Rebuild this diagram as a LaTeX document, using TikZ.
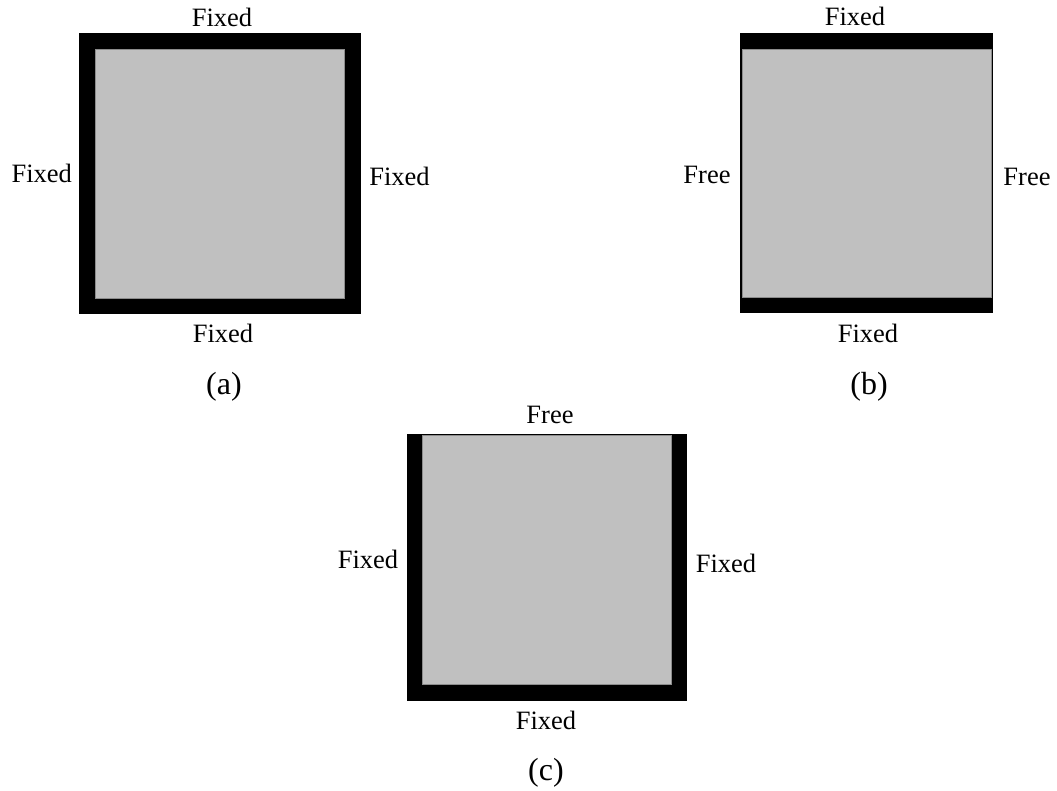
\documentclass[tikz,border=0pt]{standalone}
\usepackage{fontspec}
\setmainfont{Liberation Serif}
\definecolor{plategray}{RGB}{192,192,192}
\definecolor{plateedge}{RGB}{140,140,140}
\begin{document}
\begin{tikzpicture}[x=1pt,y=-1pt,
  clamp/.style={fill=black},
  plate/.style={fill=plategray, draw=plateedge, line width=0.7pt},
  lbl/.style={anchor=base, inner sep=0pt, font=\fontsize{26.5}{30}\selectfont},
  subcap/.style={anchor=base, inner sep=0pt, font=\fontsize{32}{36}\selectfont}]
\useasboundingbox (0,0) rectangle (1057,791);

% (a) all four edges clamped
\fill[clamp] (79.3,33.3) rectangle (360.7,314);
\filldraw[plate] (95.3,49.3) rectangle (344.7,298.3);
\node[lbl] (aT) at (222,26.5) {Fixed};
\node[lbl] (aL) at (41.7,182.7) {Fixed};
\node[lbl] (aR) at (399.5,186) {Fixed};
\node[lbl] (aB) at (223,342.5) {Fixed};
\node[subcap] (aC) at (224,394) {(a)};

% (b) top and bottom clamped, sides free
\fill[clamp] (740.3,33.3) rectangle (993.3,313.3);
\filldraw[plate] (742.3,49.3) rectangle (991.7,297.3);
\node[lbl] (bT) at (855,25.5) {Fixed};
\node[lbl] (bL) at (707,184) {Free};
\node[lbl] (bR) at (1027,186) {Free};
\node[lbl] (bB) at (868,342) {Fixed};
\node[subcap] (bC) at (869,394) {(b)};

% (c) top free, other edges clamped
\fill[clamp] (406.5,434) rectangle (686.7,700.5);
\filldraw[plate] (422.3,435.7) rectangle (671,684);
\node[lbl] (cT) at (550,423) {Free};
\node[lbl] (cL) at (368,568) {Fixed};
\node[lbl] (cR) at (726,572) {Fixed};
\node[lbl] (cB) at (546,729) {Fixed};
\node[subcap] (cC) at (546,780) {(c)};
\end{tikzpicture}
\end{document}
